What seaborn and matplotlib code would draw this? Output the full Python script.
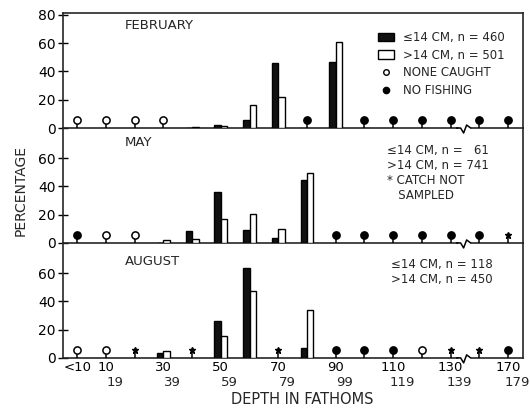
import numpy as np
import pandas as pd
import matplotlib
matplotlib.use("Agg")
import matplotlib.pyplot as plt
import seaborn as sns
from matplotlib.patches import Patch
from matplotlib.lines import Line2D
from matplotlib.transforms import ScaledTranslation, blended_transform_factory

nan = np.nan

# ---------------- data ----------------
categories = ["<10", "10-19", "20-29", "30-39", "40-49", "50-59", "60-69", "70-79",
              "80-89", "90-99", "100-109", "110-119", "120-129", "130-139",
              "150-159", "170-179"]
tick_line1 = ["<10", "10", "", "30", "", "50", "", "70", "", "90", "", "110", "",
              "130", "", "170"]
tick_line2 = ["", "19", "", "39", "", "59", "", "79", "", "99", "", "119", "",
              "139", "", "179"]

months = ["FEBRUARY", "MAY", "AUGUST"]

feb_le14 = [nan, nan, nan, nan, 0, 2, 6, 46, nan, 47, nan, nan, nan, nan, nan, nan]
feb_gt14 = [nan, nan, nan, nan, 1, 1.5, 16, 22, nan, 61, nan, nan, nan, nan, nan, nan]
feb_status = ["none", "none", "none", "none", "bar", "bar", "bar", "bar", "nofish",
              "bar", "nofish", "nofish", "nofish", "nofish", "nofish", "nofish"]

may_le14 = [nan, nan, nan, 0, 8.7, 35.8, 9.2, 3.8, 44.5, nan, nan, nan, nan, nan, nan, nan]
may_gt14 = [nan, nan, nan, 2, 2.8, 16.7, 20.5, 10, 49.7, nan, nan, nan, nan, nan, nan, nan]
may_status = ["nofish", "none", "none", "bar", "bar", "bar", "bar", "bar", "bar",
              "nofish", "nofish", "nofish", "nofish", "nofish", "nofish", "notsampled"]

aug_le14 = [nan, nan, nan, 3.3, nan, 26, 63.3, nan, 6.7, nan, nan, nan, nan, nan, nan, nan]
aug_gt14 = [nan, nan, nan, 5, nan, 15.3, 47.4, nan, 34, nan, nan, nan, nan, nan, nan, nan]
aug_status = ["none", "none", "notsampled", "bar", "notsampled", "bar", "bar",
              "notsampled", "bar", "nofish", "nofish", "nofish", "none",
              "notsampled", "notsampled", "nofish"]

le14_n = [460, 61, 118]
gt14_n = [501, 741, 450]

size_classes = ["le14", "gt14"]
month_le14 = [feb_le14, may_le14, aug_le14]
month_gt14 = [feb_gt14, may_gt14, aug_gt14]
month_status = [feb_status, may_status, aug_status]

MARKER_LEVEL = 5.5

# ---------------- style ----------------
sns.set_theme(style="ticks")
plt.rcParams['font.family'] = ['DejaVu Sans']
plt.rcParams['axes.linewidth'] = 1.2

fig, axes = plt.subplots(3, 1, figsize=(5.3, 4.09), dpi=100, sharex=True)
fig.subplots_adjust(left=0.119, right=0.987, top=0.968, bottom=0.125, hspace=0)

px_per_cat = 28.7
px_per_unit = 1.415

for k, ax in enumerate(axes):
    ax.patch.set_visible(False)
    df = pd.DataFrame({
        "depth": categories * 2,
        "size": ["le14"] * len(categories) + ["gt14"] * len(categories),
        "pct": month_le14[k] + month_gt14[k],
    }).dropna()
    sns.barplot(data=df, x="depth", y="pct", hue="size", order=categories,
                hue_order=size_classes, palette={"le14": "#111111", "gt14": "white"},
                width=0.45, edgecolor="black", linewidth=1.0, saturation=1,
                errorbar=None, legend=False, ax=ax, zorder=3)

    # markers with short stems
    for i, st in enumerate(month_status[k]):
        if st == "bar":
            continue
        ax.plot([i, i], [0, MARKER_LEVEL - 1.5], color="black", lw=1.1, zorder=3)
        if st == "notsampled":
            ax.plot(i, MARKER_LEVEL, marker="*", ms=5, color="black",
                    mec="black", zorder=4)
        else:
            face = "white" if st == "none" else "black"
            ax.plot(i, MARKER_LEVEL, marker="o", ms=5.2, mfc=face, mec="black",
                    mew=1.1, zorder=4)

    ax.set_xlim(-0.49, len(categories) - 0.48)
    ax.set_ylim(0, 81.3)
    ax.set_xlabel("")
    ax.set_ylabel("")
    if k == 0:
        ax.set_yticks([0, 20, 40, 60, 80])
    else:
        ax.set_yticks([0, 20, 40, 60])
        ax.spines["top"].set_visible(False)
    ax.tick_params(axis="y", direction="inout", length=7, width=1, labelsize=10,
                   pad=2, colors="black")
    ax.tick_params(axis="x", length=0)

    # axis break on baseline
    xb = 13.45
    ax.plot([xb - 6 / px_per_cat, xb + 6 / px_per_cat], [0, 0], color="white",
            lw=2.5, clip_on=False, zorder=6, solid_capstyle="butt")
    zx = np.array([-7, -3, 0, 3, 7]) / px_per_cat + xb
    zy = np.array([0, 0, -5, 3, 0]) / px_per_unit
    ax.plot(zx, zy, color="black", lw=1.1, clip_on=False, zorder=7)

    ax.text(0.135, [0.895, 0.87, 0.835][k], months[k], transform=ax.transAxes,
            fontsize=9.5, va="center", ha="left")

# February legend
handles = [
    Patch(facecolor="#111111", edgecolor="black", lw=1),
    Patch(facecolor="white", edgecolor="black", lw=1),
    Line2D([], [], ls="none", marker="o", ms=4, mfc="white", mec="black", mew=1),
    Line2D([], [], ls="none", marker="o", ms=4.5, mfc="black", mec="black"),
]
labels = [f"\u226414 CM, n = {le14_n[0]}", f">14 CM, n = {gt14_n[0]}",
          "NONE CAUGHT", "NO FISHING"]
axes[0].legend(handles, labels, loc="upper left", bbox_to_anchor=(0.685, 0.845),
               frameon=False, fontsize=8.5, handlelength=1.3, handleheight=0.7,
               handletextpad=0.8, labelspacing=0.4, borderaxespad=0, borderpad=0)

axes[1].text(0.705, 0.865,
             f"\u226414 CM, n =   {le14_n[1]}\n>14 CM, n = {gt14_n[1]}\n* CATCH NOT\n   SAMPLED",
             transform=axes[1].transAxes, fontsize=8.5, va="top", ha="left",
             linespacing=1.2)
axes[2].text(0.712, 0.87,
             f"\u226414 CM, n = {le14_n[2]}\n>14 CM, n = {gt14_n[2]}",
             transform=axes[2].transAxes, fontsize=8.5, va="top", ha="left",
             linespacing=1.2)

# x tick labels (two-line, staggered)
axb = axes[2]
axb.set_xticks(range(len(categories)))
axb.set_xticklabels(tick_line1, fontsize=9.5)
axb.tick_params(axis="x", pad=2, colors="black")
trans = blended_transform_factory(axb.transData, axb.transAxes)
for i, lab in enumerate(tick_line2):
    if lab:
        axb.text(i, 0, lab, fontsize=9.5, ha="center", va="center",
                 transform=trans + ScaledTranslation(0.09, -0.25, fig.dpi_scale_trans))

axb.set_xlabel("DEPTH IN FATHOMS", fontsize=10.5)
axb.xaxis.set_label_coords(0.52, -0.30)
axes[1].set_ylabel("PERCENTAGE", fontsize=10)
axes[1].yaxis.set_label_coords(-0.078, 0.46)

fig.savefig("out.png", dpi=100, facecolor="white")
